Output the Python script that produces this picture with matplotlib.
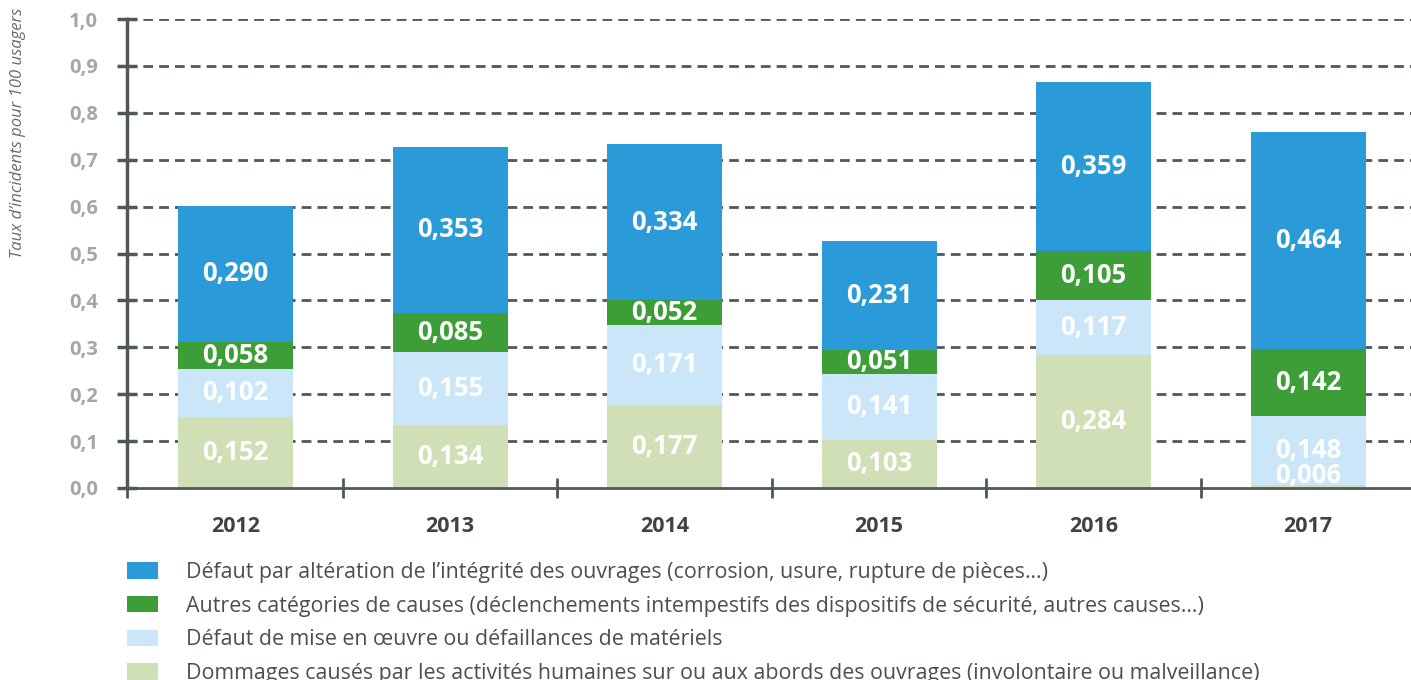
import matplotlib.pyplot as plt
import numpy as np

years = ["2012", "2013", "2014", "2015", "2016", "2017"]
dommages = [0.152, 0.134, 0.177, 0.103, 0.284, 0.006]
mise_en_oeuvre = [0.102, 0.155, 0.171, 0.141, 0.117, 0.148]
autres = [0.058, 0.085, 0.052, 0.051, 0.105, 0.142]
alteration = [0.290, 0.353, 0.334, 0.231, 0.359, 0.464]

labels = [
    "Dommages causés par les activités humaines sur ou aux abords des ouvrages (involontaire ou malveillance)",
    "Défaut de mise en œuvre ou défaillances de matériels",
    "Autres catégories de causes (déclenchements intempestifs des dispositifs de sécurité, autres causes…)",
    "Défaut par altération de l’intégrité des ouvrages (corrosion, usure, rupture de pièces…)",
]
colors = ["#d0dfb5", "#cbe6f8", "#3d9e38", "#2a9bd8"]
series = [dommages, mise_en_oeuvre, autres, alteration]

plt.rcParams['font.family'] = ['Open Sans', 'DejaVu Sans']
dark = "#50575c"

fig = plt.figure(figsize=(14.11, 6.8), dpi=100)
ax = fig.add_axes([127 / 1411, 1 - 488 / 680, 1 - 127 / 1411, 469 / 680])

x = np.arange(len(years))
width = 0.536
bottom = np.zeros(len(years))
bars = []
for vals, col, lab in zip(series, colors, labels):
    vals = np.array(vals)
    b = ax.bar(x, vals, width, bottom=bottom, color=col, label=lab, zorder=3)
    bars.append(b)
    for xi, v, bt in zip(x, vals, bottom):
        ypos = max(bt + v / 2, 0.026)
        ax.text(xi, ypos, f"{v:.3f}".replace(".", ","), ha="center", va="center",
                color="white", fontsize=18.5, fontweight="bold", zorder=4)
    bottom += vals

ax.set_xlim(-0.506, 5.48)
ax.set_ylim(0, 1.0)

# grid
for yv in np.arange(0.1, 1.01, 0.1):
    ax.axhline(yv, color=dark, lw=2, ls=(0, (3.5, 2.2)), zorder=1)

ax.spines[["top", "right"]].set_visible(False)
ax.spines["left"].set_color(dark)
ax.spines["left"].set_linewidth(2.5)
ax.spines["bottom"].set_color(dark)
ax.spines["bottom"].set_linewidth(2)
ax.spines["bottom"].set_zorder(5)

yt = np.arange(0, 1.01, 0.1)
ax.set_yticks(yt)
ax.set_yticklabels([f"{v:.1f}".replace(".", ",") for v in yt])
ax.tick_params(axis="y", direction="inout", length=14, width=2.5, color=dark,
               labelcolor="#aaa5a3", labelsize=14.5, pad=14)
for t in ax.get_yticklabels():
    t.set_fontweight("bold")

ax.set_xticks([-0.506, 0.5, 1.5, 2.5, 3.5, 4.5])
ax.set_xticklabels([])
ax.tick_params(axis="x", which="major", direction="inout", length=14, width=2, color=dark)
ax.set_xticks(x, minor=True)
ax.set_xticklabels(years, minor=True)
ax.tick_params(axis="x", which="minor", length=0, pad=20, labelsize=15.5, labelcolor="#3d4347")
for t in ax.get_xticklabels(minor=True):
    t.set_fontweight("bold")

fig.text(18 / 1411, 1 - 133 / 680, "Taux d’incidents pour 100 usagers", rotation=90,
         ha="center", va="center", fontsize=12, style="italic", color="#6b6b6b")

handles = [bars[3], bars[2], bars[1], bars[0]]
leg_labels = [labels[3], labels[2], labels[1], labels[0]]
fig.legend(handles, leg_labels, loc="upper left", bbox_to_anchor=(127 / 1411, 1 - 562 / 680),
           frameon=False, fontsize=15.4, handlelength=1.45, handleheight=0.8,
           handletextpad=1.3, labelspacing=0.59, borderpad=0, borderaxespad=0,
           labelcolor="#4a4f53")

fig.savefig("out.png", dpi=100)
